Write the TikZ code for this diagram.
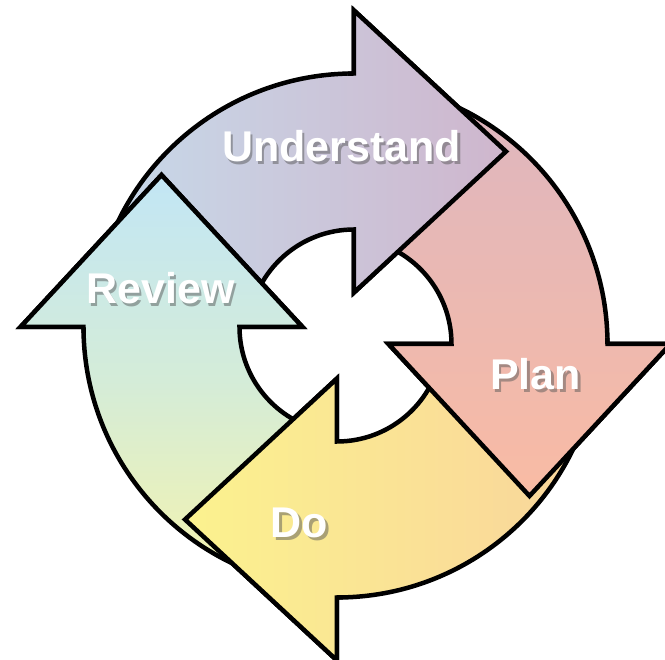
\documentclass[tikz,border=0pt]{standalone}
\usepackage{fontspec}
\setsansfont{Liberation Sans}
\usepackage{tikz}
\usetikzlibrary{calc}
\definecolor{colorud1}{HTML}{C6DAEA}
\definecolor{colorud2}{HTML}{CFB6CD}
\definecolor{colorpl1}{HTML}{DDB6C0}
\definecolor{colorpl2}{HTML}{F9BBA4}
\definecolor{colordo1}{HTML}{F9D49C}
\definecolor{colordo2}{HTML}{FBF28E}
\definecolor{colorrv1}{HTML}{F4F3AE}
\definecolor{colorrvm}{HTML}{D4ECD8}
\definecolor{colorrv2}{HTML}{C2E6F5}
\tikzset{
  arrowud/.style={draw=black, line width=4.5pt, left color=colorud1, right color=colorud2},
  arrowpl/.style={draw=black, line width=4.5pt, top color=colorpl1, bottom color=colorpl2},
  arrowdo/.style={draw=black, line width=4.5pt, left color=colordo2, right color=colordo1},
  arrowrv/.style={draw=black, line width=4.5pt, bottom color=colorrv1, top color=colorrv2, middle color=colorrvm},
  lbl/.style={text=white, font=\sffamily\bfseries\fontsize{43}{43}\selectfont, inner sep=0pt},
  lblshadow/.style={lbl, text=black!65, opacity=0.5}
}
% #1 centre, #2 angle of the head, #3 style
\newcommand{\cyclearrow}[3]{%
  \path[#3] ($(#1)+(#2+80:262)$) arc[start angle=#2+80, end angle=#2, radius=262]
    -- ($(#1)+(#2:325)$) -- ($(#1)+(#2:184)+(#2-90:152)$) -- ($(#1)+(#2:43)$)
    -- ($(#1)+(#2:106)$) arc[start angle=#2, end angle=#2+80, radius=106] -- cycle;
}
% head again on top of the next tail
\newcommand{\cyclehead}[3]{%
  \begin{scope}
    \clip ($(#1)+(#2:30)+(#2+90:6)$) -- ($(#1)+(#2:338)+(#2+90:6)$)
      -- ($(#1)+(#2:184)+(#2-90:170)$) -- cycle;
    \cyclearrow{#1}{#2}{#3}
  \end{scope}
}

\begin{document}
\begin{tikzpicture}[x=1pt, y=1pt]
\useasboundingbox (-345.5,-324.5) rectangle (319.5,335.5);
\clip (-345.5,-324.5) rectangle (319.5,335.5);
\coordinate (cud) at (8.5,0);
\coordinate (cpl) at (0,-8.5);
\coordinate (cdo) at (-8.5,0);
\coordinate (crv) at (0,8.5);
\cyclearrow{cud}{90}{arrowud}
\cyclearrow{cpl}{0}{arrowpl}
\cyclearrow{cdo}{270}{arrowdo}
\cyclearrow{crv}{180}{arrowrv}
\cyclehead{cud}{90}{arrowud}
\cyclehead{cpl}{0}{arrowpl}
\cyclehead{cdo}{270}{arrowdo}
\cyclehead{crv}{180}{arrowrv}
\node[lblshadow] (udshadow) at (-1.5,186) {Understand};
\node[lbl] (ud) at (-4,189) {Understand};
\node[lblshadow] (plshadow) at (192.5,-42) {Plan};
\node[lbl] (pl) at (190,-39) {Plan};
\node[lblshadow] (doshadow) at (-43.5,-190) {Do};
\node[lbl] (do) at (-46,-187) {Do};
\node[lblshadow] (rvshadow) at (-182.5,44) {Review};
\node[lbl] (rv) at (-185,47) {Review};
\end{tikzpicture}
\end{document}
